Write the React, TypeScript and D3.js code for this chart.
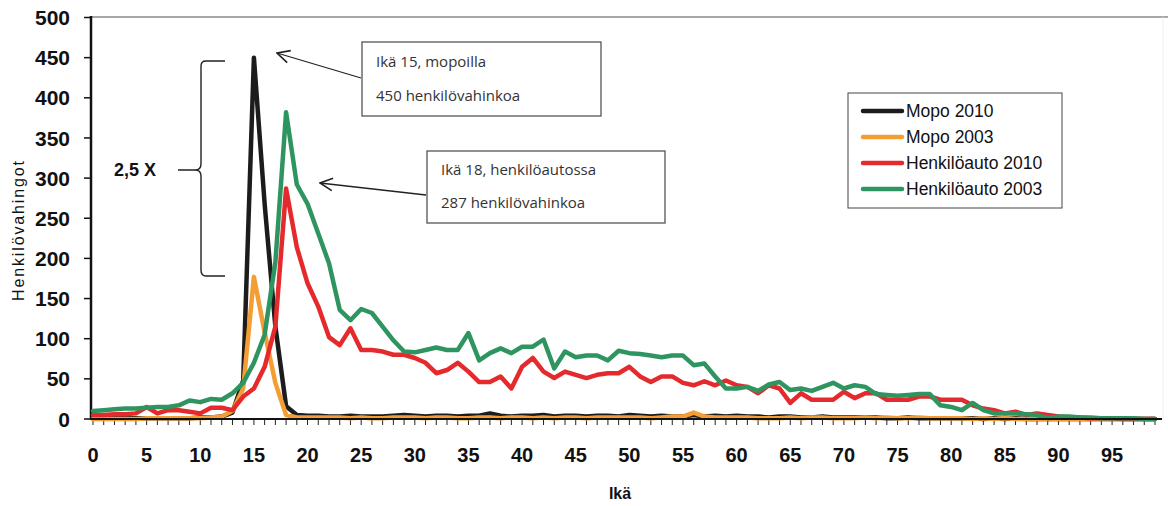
import * as d3 from "d3";

const AGES = d3.range(0, 100);
const X_TICK_LABELS = d3.range(0, 100, 5);
const Y_TICKS = [0, 50, 100, 150, 200, 250, 300, 350, 400, 450, 500];

const MOPO_2010 = [
  1, 1, 1, 1, 1, 1, 1, 1, 1, 1, 2, 2, 3, 8, 48, 450, 268, 115, 16, 5,
  4, 4, 3, 3, 4, 3, 3, 3, 4, 5, 4, 3, 4, 4, 3, 4, 4, 7, 4, 3,
  4, 4, 5, 3, 4, 4, 3, 4, 4, 3, 5, 4, 3, 4, 3, 3, 5, 3, 4, 3,
  4, 3, 3, 2, 3, 3, 2, 2, 3, 2, 2, 2, 2, 2, 1, 1, 2, 1, 1, 1,
  1, 1, 1, 0, 1, 0, 1, 0, 0, 0, 0, 0, 0, 0, 0, 0, 0, 0, 0, 0,
];

const MOPO_2003 = [
  0, 0, 0, 0, 0, 1, 1, 1, 1, 1, 1, 2, 3, 10, 38, 177, 108, 45, 5, 2,
  2, 2, 2, 2, 1, 2, 1, 1, 2, 2, 2, 1, 2, 2, 1, 1, 2, 2, 1, 2,
  2, 1, 2, 1, 2, 2, 1, 2, 2, 2, 2, 2, 1, 2, 3, 3, 8, 3, 2, 2,
  2, 2, 1, 1, 1, 2, 1, 2, 2, 1, 1, 1, 2, 1, 2, 1, 1, 2, 1, 1,
  1, 1, 0, 1, 0, 1, 0, 0, 0, 0, 0, 0, 0, 0, 0, 0, 0, 0, 0, 0,
];

const AUTO_2010 = [
  5, 5, 6, 6, 7, 15, 7, 11, 11, 9, 7, 14, 14, 11, 28, 38, 65, 115, 287, 214,
  169, 140, 102, 92, 113, 86, 86, 84, 80, 80, 76, 70, 57, 61, 70, 59, 46, 46, 53, 38,
  65, 76, 59, 51, 59, 55, 51, 55, 57, 57, 65, 53, 46, 53, 53, 45, 42, 47, 42, 48,
  42, 40, 32, 42, 38, 20, 32, 24, 24, 24, 34, 26, 32, 32, 24, 24, 24, 28, 28, 24,
  24, 24, 17, 13, 11, 7, 9, 5, 7, 5, 3, 2, 2, 1, 1, 1, 0, 0, 0, 0,
];

const AUTO_2003 = [
  10, 11, 12, 13, 13, 14, 15, 15, 17, 23, 21, 25, 24, 32, 45, 70, 105, 195, 382, 292,
  268, 231, 194, 136, 123, 137, 132, 115, 98, 84, 83, 86, 89, 86, 86, 107, 73, 82, 88, 82,
  90, 90, 99, 63, 84, 77, 79, 79, 73, 85, 82, 81, 79, 77, 79, 79, 67, 69, 53, 38,
  38, 40, 35, 43, 46, 36, 38, 35, 40, 45, 38, 42, 40, 31, 30, 29, 30, 31, 31, 17,
  15, 11, 20, 11, 7, 7, 7, 6, 5, 1, 3, 3, 2, 2, 1, 1, 1, 1, 0, 0,
];

const SERIES = [
  { name: "Mopo 2010", values: MOPO_2010, color: "#1c1c1c" },
  { name: "Mopo 2003", values: MOPO_2003, color: "#f49d33" },
  { name: "Henkilöauto 2010", values: AUTO_2010, color: "#e42a2d" },
  { name: "Henkilöauto 2003", values: AUTO_2003, color: "#2f9560" },
];

const WIDTH = 1168;
const HEIGHT = 506;
const AXIS_X = 91;
const AXIS_Y = 419;

export default function App() {
  const x = d3.scaleLinear().domain([0, 99]).range([93, 1155]);
  const y = d3.scaleLinear().domain([0, 500]).range([AXIS_Y, 17.5]);

  const line = d3
    .line<number>()
    .x((_, i) => x(AGES[i]))
    .y((d) => y(d));

  const font = "'Liberation Sans', Arial, sans-serif";
  const noteFont = "'Open Sans', 'Noto Sans', sans-serif";

  return (
    <svg
      width={WIDTH}
      height={HEIGHT}
      style={{ position: "absolute", left: 0, top: 0, background: "#fff" }}
    >
      {/* plot frame top + faint right */}
      <line x1={AXIS_X} x2={1168} y1={17} y2={17} stroke="#8a8a8a" strokeWidth={1.6} />
      <line x1={1163} x2={1163} y1={17} y2={AXIS_Y} stroke="#eeeeee" strokeWidth={1} />

      {/* y axis */}
      <line x1={AXIS_X} x2={AXIS_X} y1={16} y2={AXIS_Y + 1} stroke="#111" strokeWidth={2.5} />
      {Y_TICKS.map((t) => (
        <g key={t}>
          <line x1={AXIS_X - 7} x2={AXIS_X} y1={y(t)} y2={y(t)} stroke="#111" strokeWidth={1.5} />
          <text
            x={70}
            y={y(t)}
            dy="0.36em"
            textAnchor="end"
            fontFamily={font}
            fontWeight="bold"
            fontSize={21}
            fill="#111"
          >
            {t}
          </text>
        </g>
      ))}

      {/* x axis */}
      {AGES.map((a) => (
        <line
          key={a}
          x1={x(a)}
          x2={x(a)}
          y1={AXIS_Y}
          y2={AXIS_Y + 6}
          stroke="#222"
          strokeWidth={1}
        />
      ))}
      {X_TICK_LABELS.map((a) => (
        <text
          key={a}
          x={x(a)}
          y={462}
          textAnchor="middle"
          fontFamily={font}
          fontWeight="bold"
          fontSize={20}
          fill="#111"
        >
          {a}
        </text>
      ))}

      {/* series */}
      {SERIES.map((s) => (
        <path
          key={s.name}
          d={line(s.values) ?? ""}
          fill="none"
          stroke={s.color}
          strokeWidth={4.5}
          strokeLinejoin="round"
          strokeLinecap="round"
        />
      ))}

      <line x1={AXIS_X} x2={1162} y1={AXIS_Y} y2={AXIS_Y} stroke="#111" strokeWidth={2} />

      {/* axis titles */}
      <text
        x={620}
        y={499}
        textAnchor="middle"
        fontFamily={font}
        fontWeight="bold"
        fontSize={16}
        fill="#111"
      >
        Ikä
      </text>
      <text
        transform="translate(24,231) rotate(-90)"
        textAnchor="middle"
        fontFamily={font}
        fontSize={16}
        textLength={140}
        lengthAdjust="spacing"
        fill="#111"
      >
        Henkilövahingot
      </text>

      {/* brace */}
      <path
        d="M225,61 L206,61 Q201,61 201,66 L201,164 Q201,170 195,170 L178,170 M195,170 Q201,170 201,176 L201,270 Q201,276 206,276 L225,276"
        fill="none"
        stroke="#222"
        strokeWidth={1.4}
      />
      <text
        x={135}
        y={170}
        dy="0.36em"
        textAnchor="middle"
        fontFamily={font}
        fontWeight="bold"
        fontSize={18}
        fill="#111"
      >
        2,5 X
      </text>

      {/* annotation arrows */}
      <defs>
        <marker
          id="open-arrow"
          viewBox="0 0 12 12"
          refX={11}
          refY={6}
          markerWidth={15}
          markerHeight={15}
          markerUnits="userSpaceOnUse"
          orient="auto"
        >
          <path d="M1,1 L11,6 L1,11" fill="none" stroke="#222" strokeWidth={1.3} />
        </marker>
      </defs>
      <line
        x1={361}
        y1={78}
        x2={277}
        y2={53}
        stroke="#222"
        strokeWidth={1.3}
        markerEnd="url(#open-arrow)"
      />
      <line
        x1={426}
        y1={195}
        x2={320}
        y2={183}
        stroke="#222"
        strokeWidth={1.3}
        markerEnd="url(#open-arrow)"
      />

      <rect x={362} y={42} width={239} height={74} fill="#fff" stroke="#555" strokeWidth={1.3} />
      <text x={376} y={67} fontFamily={noteFont} fontSize={15} fill="#333">
        Ikä 15, mopoilla
      </text>
      <text x={376} y={101} fontFamily={noteFont} fontSize={15} fill="#333">
        450 henkilövahinkoa
      </text>

      <rect x={427} y={151} width={238} height={72} fill="#fff" stroke="#555" strokeWidth={1.3} />
      <text x={441} y={175} fontFamily={noteFont} fontSize={15} fill="#333">
        Ikä 18, henkilöautossa
      </text>
      <text x={441} y={208} fontFamily={noteFont} fontSize={15} fill="#333">
        287 henkilövahinkoa
      </text>

      {/* legend */}
      <rect x={848} y={93} width={214} height={115} fill="#fff" stroke="#444" strokeWidth={1} />
      {SERIES.map((s, i) => {
        const ly = 111 + i * 26;
        return (
          <g key={s.name}>
            <line
              x1={863}
              x2={902}
              y1={ly}
              y2={ly}
              stroke={s.color}
              strokeWidth={4.5}
              strokeLinecap="round"
            />
            <text
              x={906}
              y={ly}
              dy="0.36em"
              fontFamily={font}
              fontSize={17.5}
              fill="#111"
            >
              {s.name}
            </text>
          </g>
        );
      })}
    </svg>
  );
}
